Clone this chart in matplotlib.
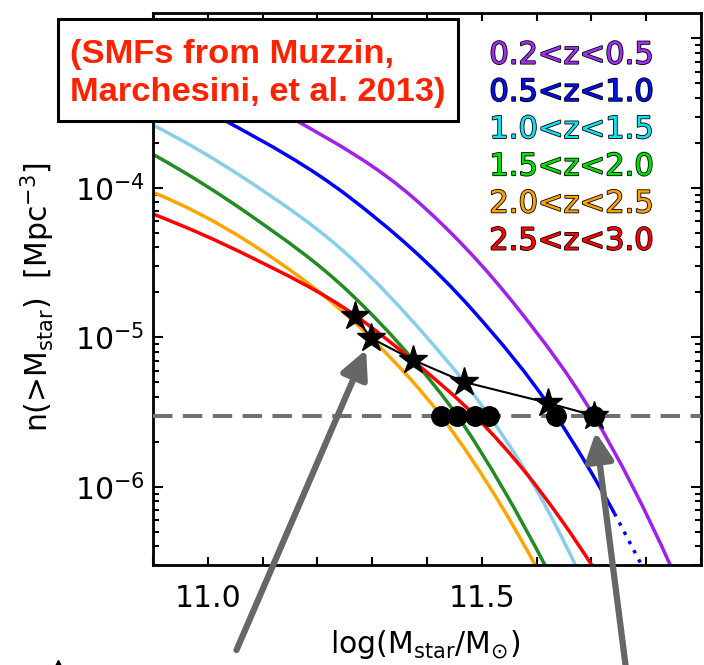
import numpy as np
import matplotlib.pyplot as plt
import matplotlib.patheffects as pe
from matplotlib.patches import Rectangle, PathPatch
from matplotlib.path import Path
from matplotlib.lines import Line2D
from matplotlib.ticker import MultipleLocator, LogLocator, FuncFormatter


plt.rcParams["font.family"] = "DejaVu Sans"
plt.rcParams["font.size"] = 21
plt.rcParams["mathtext.fontset"] = "dejavusans"
plt.rcParams["lines.scale_dashes"] = False

# cumulative number densities, log10 n(>M) vs log10 M
z_labels = ["0.2<z<0.5", "0.5<z<1.0", "1.0<z<1.5",
            "1.5<z<2.0", "2.0<z<2.5", "2.5<z<3.0"]

mass_z02 = [10.90, 11.162, 11.380, 11.568, 11.704, 11.846]
logn_z02 = [-3.12, -3.551, -4.082, -4.817, -5.523, -6.54]

mass_z05 = [10.90, 11.032, 11.259, 11.483, 11.635, 11.742]
logn_z05 = [-3.31, -3.551, -4.064, -4.817, -5.523, -6.177]
# extrapolated part of the 0.5<z<1.0 function
mass_z05_ext = [11.742, 11.794]
logn_z05_ext = [-6.177, -6.54]

mass_z10 = [10.90, 11.077, 11.259, 11.404, 11.468, 11.513, 11.586, 11.673]
logn_z10 = [-3.580, -3.961, -4.461, -5.018, -5.299, -5.523, -5.932, -6.54]

mass_z15 = [10.90, 11.077, 11.259, 11.375, 11.455, 11.538, 11.6175]
logn_z15 = [-3.776, -4.182, -4.702, -5.152, -5.523, -6.008, -6.54]

mass_z20 = [10.90, 11.077, 11.298, 11.425, 11.538, 11.600]
logn_z20 = [-4.030, -4.369, -5.005, -5.523, -6.142, -6.54]

mass_z25 = [10.90, 11.077, 11.268, 11.374, 11.487, 11.586, 11.7035]
logn_z25 = [-4.175, -4.461, -4.851, -5.155, -5.523, -5.932, -6.54]

line_colors = ["#a020f0", "#0000ff", "#87ceeb", "#228b22", "#ffa500", "#ff0000"]
text_colors = ["#a030f0", "#0010e8", "#10e0f0", "#00e000", "#ffa000", "#ff0000"]

# progenitor track (stars) and constant number density selection (circles)
star_mass = [11.268, 11.298, 11.375, 11.468, 11.621, 11.704]
star_logn = [-4.858, -5.005, -5.152, -5.299, -5.439, -5.523]
circ_mass = [11.425, 11.455, 11.487, 11.513, 11.635, 11.704]
n_const = 3e-6

curves = [(mass_z02, logn_z02), (mass_z05, logn_z05), (mass_z10, logn_z10),
          (mass_z15, logn_z15), (mass_z20, logn_z20), (mass_z25, logn_z25)]


def smooth_path(m, lg):
    """Cubic Hermite bezier through the points, built in log n space."""
    x = np.asarray(m, float)
    y = np.asarray(lg, float)
    d = np.gradient(y, x, edge_order=2)
    verts = [(x[0], y[0])]
    codes = [Path.MOVETO]
    for i in range(len(x) - 1):
        h = (x[i+1] - x[i]) / 3
        verts += [(x[i] + h, y[i] + d[i]*h),
                  (x[i+1] - h, y[i+1] - d[i+1]*h),
                  (x[i+1], y[i+1])]
        codes += [Path.CURVE4]*3
    verts = np.array(verts)
    verts[:, 1] = 10**verts[:, 1]
    return Path(verts, codes)


W, H = 704, 665
fig = plt.figure(figsize=(W/100, H/100), dpi=100)
ax = fig.add_axes([153/W, 100/H, 548/W, 552.5/H])
ax.set_yscale("log")
ax.set_xlim(10.9, 11.9)
ax.set_ylim(3.0e-7, 1.49e-3)

for (m, lg), c in zip(curves, line_colors):
    ax.add_patch(PathPatch(smooth_path(m, lg), fill=False, edgecolor=c,
                           lw=2.5, zorder=2))
ax.plot(mass_z05_ext, 10**np.array(logn_z05_ext), color=line_colors[1],
        lw=2.5, dashes=(2.5, 5), zorder=2)

ax.axhline(n_const, color="#707070", lw=2.9, dashes=(14, 7.5), zorder=3)
ax.plot(circ_mass, [n_const]*len(circ_mass), "o", color="k", ms=14, zorder=5)
ax.plot(star_mass, 10**np.array(star_logn), "-*", color="k", lw=1.5, ms=21,
        zorder=6)

# arrows pointing at the lowest and highest redshift progenitor
arrow_kw = dict(arrowstyle="-|>,head_length=0.85,head_width=0.42",
                color="#666666", lw=4.5, mutation_scale=20, shrinkA=0)
ax.annotate("", xy=(star_mass[1], 10**star_logn[1]), xycoords="data",
            xytext=(236.5, 15), textcoords="figure pixels",
            arrowprops=dict(arrow_kw, shrinkB=9), annotation_clip=False,
            zorder=4)
ax.annotate("", xy=(star_mass[5], 10**star_logn[5]), xycoords="data",
            xytext=(630, -35), textcoords="figure pixels",
            arrowprops=dict(arrow_kw, shrinkB=12), annotation_clip=False,
            zorder=4)


def ylab(v, pos):
    # the 1e-3 label sits under the reference box
    e = int(round(np.log10(v)))
    return "" if e > -4 else r"$\mathregular{10^{%d}}$" % e


ax.xaxis.set_major_locator(MultipleLocator(0.5))
ax.xaxis.set_minor_locator(MultipleLocator(0.1))
ax.yaxis.set_major_locator(LogLocator(base=10))
ax.yaxis.set_minor_locator(LogLocator(base=10, subs=np.arange(2, 10)))
ax.xaxis.set_major_formatter(FuncFormatter(lambda v, p: "%.1f" % v))
ax.yaxis.set_major_formatter(FuncFormatter(ylab))

ax.tick_params(which="both", direction="in", top=True, right=True, width=1.5,
               labelsize=21.5)
ax.tick_params(axis="x", which="both", length=6, pad=14)
ax.tick_params(axis="y", which="major", length=7.5, pad=6)
ax.tick_params(axis="y", which="minor", length=4)
for s in ax.spines.values():
    s.set_linewidth(2)

fig.text(425/W, (H - 653)/H, r"log(M$_{\mathregular{star}}$/M$_{\odot}$)",
         ha="center", va="baseline", fontsize=21.5)
fig.text(38/W, (H - 297)/H,
         r"n(>M$_{\mathregular{star}}$)  [Mpc$^{\mathregular{-3}}$]",
         rotation=90, ha="center", va="center", fontsize=21.5)

# redshift labels, outlined like the IDL originals
for i, (lab, c) in enumerate(zip(z_labels, text_colors)):
    ax.text(0.9124, 0.9073 - i*0.0673, lab, color=c, fontsize=22,
            ha="right", va="baseline", transform=ax.transAxes, zorder=7,
            path_effects=[pe.withStroke(linewidth=1.2, foreground="k")])

# reference box
fig.add_artist(Rectangle((58/W, (H - 120.7)/H), 400/W, 101.4/H,
                         transform=fig.transFigure, facecolor="white",
                         edgecolor="k", lw=2.2, zorder=4))
fig.text(70/W, (H - 63.3)/H, "(SMFs from Muzzin,", color="#ff2200",
         fontsize=24.8, fontweight="bold", family="Liberation Sans",
         va="baseline", zorder=5)
fig.text(70/W, (H - 101)/H, "Marchesini, et al. 2013)", color="#ff2200",
         fontsize=24.8, fontweight="bold", family="Liberation Sans",
         va="baseline", zorder=5)

fig.add_artist(Line2D([58/W], [-1/H], marker="^", ms=9, color="k",
                      transform=fig.transFigure))

fig.savefig("out.png", dpi=100)
